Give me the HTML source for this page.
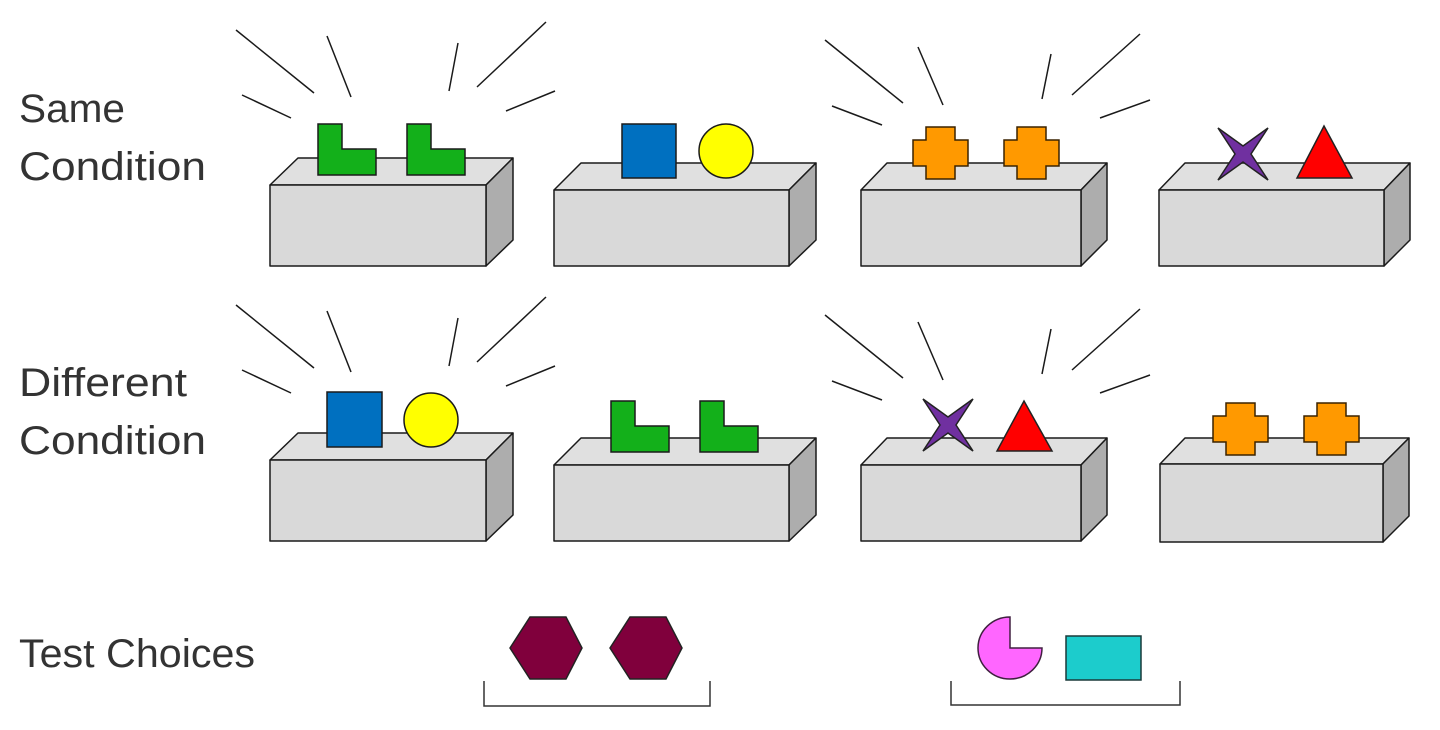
<!DOCTYPE html>
<html><head><meta charset="utf-8"><style>html,body{margin:0;padding:0;background:#fff}svg{display:block}</style></head>
<body>
<svg width="1440" height="730" viewBox="0 0 1440 730" xmlns="http://www.w3.org/2000/svg">
<defs>
<g id="L"><path d="M0 0H24V25H58V51H0Z" fill="#13b01a" stroke="#1a1a1a" stroke-width="1.5"/></g>
<g id="X"><path d="M13 0H42V13H55V39H42V52H13V39H0V13H13Z" fill="#ff9900" stroke="#3a2200" stroke-width="1.5"/></g>
<g id="S"><path d="M-25 -26 L0 -8 L25 -26 L8 0 L25 26 L0 8 L-25 26 L-8 0 Z" fill="#7030a0" stroke="#222" stroke-width="1.5"/></g>
</defs>
<g font-family="Liberation Sans, sans-serif" font-size="40" fill="#333">
<text x="19" y="122" textLength="106" lengthAdjust="spacingAndGlyphs">Same</text>
<text x="19" y="180" textLength="187" lengthAdjust="spacingAndGlyphs">Condition</text>
<text x="19" y="396" textLength="168" lengthAdjust="spacingAndGlyphs">Different</text>
<text x="19" y="454" textLength="187" lengthAdjust="spacingAndGlyphs">Condition</text>
<text x="19" y="667" textLength="236" lengthAdjust="spacingAndGlyphs">Test Choices</text>
</g>
<g stroke="#1a1a1a" stroke-width="1.5" stroke-linejoin="round">
<g transform="translate(270,185)"><polygon points="0,0 28,-27 243,-27 216,0" fill="#e0e0e0"/><polygon points="216,0 243,-27 243,55 216,81" fill="#adadad"/><rect width="216" height="81" fill="#d9d9d9"/></g>
<g transform="translate(554,190)"><polygon points="0,0 27,-27 262,-27 235,0" fill="#e0e0e0"/><polygon points="235,0 262,-27 262,50 235,76" fill="#adadad"/><rect width="235" height="76" fill="#d9d9d9"/></g>
<g transform="translate(861,190)"><polygon points="0,0 26,-27 246,-27 220,0" fill="#e0e0e0"/><polygon points="220,0 246,-27 246,50 220,76" fill="#adadad"/><rect width="220" height="76" fill="#d9d9d9"/></g>
<g transform="translate(1159,190)"><polygon points="0,0 26,-27 251,-27 225,0" fill="#e0e0e0"/><polygon points="225,0 251,-27 251,50 225,76" fill="#adadad"/><rect width="225" height="76" fill="#d9d9d9"/></g>
<g transform="translate(270,460)"><polygon points="0,0 28,-27 243,-27 216,0" fill="#e0e0e0"/><polygon points="216,0 243,-27 243,55 216,81" fill="#adadad"/><rect width="216" height="81" fill="#d9d9d9"/></g>
<g transform="translate(554,465)"><polygon points="0,0 27,-27 262,-27 235,0" fill="#e0e0e0"/><polygon points="235,0 262,-27 262,50 235,76" fill="#adadad"/><rect width="235" height="76" fill="#d9d9d9"/></g>
<g transform="translate(861,465)"><polygon points="0,0 26,-27 246,-27 220,0" fill="#e0e0e0"/><polygon points="220,0 246,-27 246,50 220,76" fill="#adadad"/><rect width="220" height="76" fill="#d9d9d9"/></g>
<g transform="translate(1160,464)"><polygon points="0,0 25,-26 249,-26 223,0" fill="#e0e0e0"/><polygon points="223,0 249,-26 249,52 223,78" fill="#adadad"/><rect width="223" height="78" fill="#d9d9d9"/></g>
</g>
<g stroke="#1a1a1a" stroke-width="1.5">
<line x1="236" y1="30" x2="314" y2="93"/><line x1="327" y1="36" x2="351" y2="97"/><line x1="458" y1="43" x2="449" y2="91"/><line x1="546" y1="22" x2="477" y2="87"/><line x1="242" y1="95" x2="291" y2="118"/><line x1="555" y1="91" x2="506" y2="111"/>
<line x1="825" y1="40" x2="903" y2="103"/><line x1="918" y1="47" x2="943" y2="105"/><line x1="1051" y1="54" x2="1042" y2="99"/><line x1="1140" y1="34" x2="1072" y2="95"/><line x1="832" y1="106" x2="882" y2="125"/><line x1="1150" y1="100" x2="1100" y2="118"/>
<line x1="236" y1="305" x2="314" y2="368"/><line x1="327" y1="311" x2="351" y2="372"/><line x1="458" y1="318" x2="449" y2="366"/><line x1="546" y1="297" x2="477" y2="362"/><line x1="242" y1="370" x2="291" y2="393"/><line x1="555" y1="366" x2="506" y2="386"/>
<line x1="825" y1="315" x2="903" y2="378"/><line x1="918" y1="322" x2="943" y2="380"/><line x1="1051" y1="329" x2="1042" y2="374"/><line x1="1140" y1="309" x2="1072" y2="370"/><line x1="832" y1="381" x2="882" y2="400"/><line x1="1150" y1="375" x2="1100" y2="393"/>
</g>
<use href="#L" x="318" y="124"/><use href="#L" x="407" y="124"/>
<rect x="622" y="124" width="54" height="54" fill="#0070c0" stroke="#1a1a1a" stroke-width="1.5"/>
<circle cx="726" cy="151" r="27" fill="#ffff00" stroke="#1a1a1a" stroke-width="1.5"/>
<use href="#X" x="913" y="127"/><use href="#X" x="1004" y="127"/>
<use href="#S" x="1243" y="154"/>
<polygon points="1324,126 1352,178 1297,178" fill="#ff0000" stroke="#222" stroke-width="1.5"/>
<rect x="327" y="392" width="55" height="55" fill="#0070c0" stroke="#1a1a1a" stroke-width="1.5"/>
<circle cx="431" cy="420" r="27" fill="#ffff00" stroke="#1a1a1a" stroke-width="1.5"/>
<use href="#L" x="611" y="401"/><use href="#L" x="700" y="401"/>
<use href="#S" x="948" y="425"/>
<polygon points="1024,401 1052,451 997,451" fill="#ff0000" stroke="#222" stroke-width="1.5"/>
<use href="#X" x="1213" y="403"/><use href="#X" x="1304" y="403"/>
<polygon points="510,648 530,617 566,617 582,648 566,679 530,679" fill="#80003c" stroke="#222" stroke-width="1.5"/>
<polygon points="610,648 630,617 666,617 682,648 666,679 630,679" fill="#80003c" stroke="#222" stroke-width="1.5"/>
<path d="M1010 617 V648 H1042 A32 31 0 1 1 1010 617 Z" fill="#ff66ff" stroke="#402040" stroke-width="1.5"/>
<rect x="1066" y="636" width="75" height="44" fill="#1ccccc" stroke="#1a3a3a" stroke-width="1.5"/>
<g fill="none" stroke="#333" stroke-width="1.5">
<path d="M484 681 V706 H710 V681"/>
<path d="M951 681 V705 H1180 V681"/>
</g>
</svg>
</body></html>
